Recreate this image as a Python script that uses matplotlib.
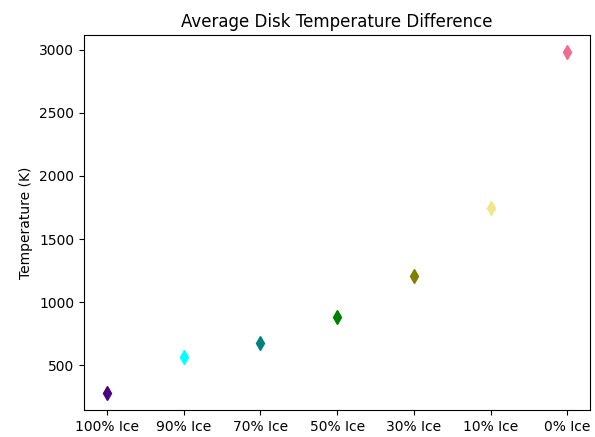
import matplotlib
matplotlib.use("Agg")
import matplotlib.pyplot as plt

# categorias y temperaturas
categorias = ['100% Ice', '90% Ice', '70% Ice', '50% Ice', '30% Ice', '10% Ice', '0% Ice']
temperaturas = [279, 565, 673, 878, 1204, 1744, 2984]
colores = ['indigo', 'cyan', 'teal', 'green', 'olive', 'khaki', '#f06a94']

fig, ax = plt.subplots(figsize=(5.95, 4.37), dpi=100)
fig.subplots_adjust(left=0.141, right=0.992, top=0.920, bottom=0.062)

for i, (cat, t, c) in enumerate(zip(categorias, temperaturas, colores)):
    ax.plot(cat, t, marker='d', color=c, markersize=7, linestyle='none')

ax.set_title('Average Disk Temperature Difference')
ax.set_ylabel('Temperature (K)')

fig.savefig('out.png')
